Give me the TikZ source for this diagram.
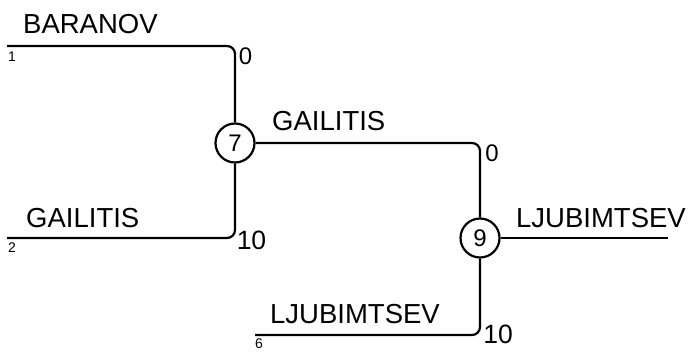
\documentclass[tikz,border=0pt]{standalone}
\usepackage{fontspec}
\setmainfont{Liberation Sans}
\usepackage{tikz}
\usetikzlibrary{positioning}

\begin{document}
\begin{tikzpicture}[x=1pt,y=-1pt,
 team/.style={font=\fontsize{27.5}{30}\selectfont,anchor=base west,inner sep=0pt},
 seed/.style={font=\fontsize{14}{16}\selectfont,anchor=north west,inner sep=0pt},
 score/.style={font=\fontsize{24}{26}\selectfont,inner sep=0pt},
 bigscore/.style={score,font=\fontsize{26.5}{28}\selectfont},
 match/.style={circle,draw,line width=2.2pt,minimum size=39pt,inner sep=0pt,font=\fontsize{24}{26}\selectfont},
 wire/.style={line width=2.2pt,rounded corners=8pt}
]
\useasboundingbox (0,0) rectangle (695,351);
% matches
\node[match] (m7) at (235,143) {7};
\node[match] (m9) at (480,238) {9};
% free ends
\coordinate (s1) at (7,46);
\coordinate (s2) at (7,238);
\coordinate (s6) at (255,335);
\coordinate (fin) at (668,238);
% bracket lines
\draw[wire] (s1) -| (m7);
\draw[wire] (s2) -| (m7);
\draw[wire] (m7) -| (m9);
\draw[wire] (s6) -| (m9);
\draw[wire] (m9) -- (fin);
% names
\node[team] (baranov) at (23,33) {BARANOV};
\node[team] (gailitisA) at (26,227) {GAILITIS};
\node[team] (gailitisB) at (272,130) {GAILITIS};
\node[team] (ljubA) at (270,323) {LJUBIMTSEV};
\node[team] (ljubB) at (516,227) {LJUBIMTSEV};
% seeds
\node[seed] (seed1) at (8,52) {1};
\node[seed] (seed2) at (8,243) {2};
\node[seed] (seed6) at (255,339) {6};
% scores
\node[score] (sc1) at (245.5,56.5) {0};
\node[bigscore] (sc2) at (251.5,240) {10};
\node[score] (sc3) at (492,153.5) {0};
\node[bigscore] (sc4) at (498,334) {10};
\end{tikzpicture}
\end{document}
